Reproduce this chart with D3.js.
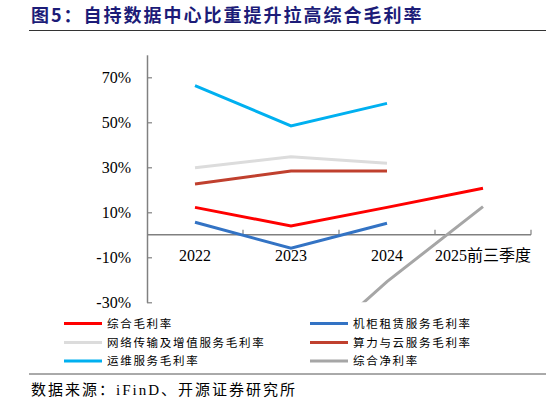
<!DOCTYPE html>
<html>
<head>
<meta charset="utf-8">
<script src="https://cdn.jsdelivr.net/npm/d3@7"></script>
<style>
  body { margin: 0; background: #fff; }
  svg { display: block; }
</style>
</head>
<body>
<svg id="chart" width="546" height="404"></svg>
<script>
// values (percent)
const categories = ['2022', '2023', '2024', '2025前三季度'];
const grossMargin = [12.2, 3.9, 12.2, 20.7];       // 综合毛利率
const rackMargin = [5.6, -6.0, 5.1, null];         // 机柜租赁服务毛利率
const networkMargin = [29.8, 34.7, 31.8, null];    // 网络传输及增值服务毛利率
const cloudMargin = [22.6, 28.4, 28.4, null];      // 算力与云服务毛利率
const opsMargin = [66.3, 48.4, 58.4, null];        // 运维服务毛利率
const netMargin = [null, -59.0, -20.8, 12.5];      // 综合净利率
const yTicks = [-30, -10, 10, 30, 50, 70];

const series = [
  {name: '综合毛利率', values: grossMargin, color: '#ff0000'},
  {name: '机柜租赁服务毛利率', values: rackMargin, color: '#3373c4'},
  {name: '网络传输及增值服务毛利率', values: networkMargin, color: '#dcdcdc'},
  {name: '算力与云服务毛利率', values: cloudMargin, color: '#c0402e'},
  {name: '运维服务毛利率', values: opsMargin, color: '#00b0f0'},
  {name: '综合净利率', values: netMargin, color: '#a6a6a6'}
];

const svg = d3.select('#chart');
const serif = '"Liberation Serif", "Times New Roman", serif';
const cjk = '"Noto Sans CJK SC", sans-serif';

// title
svg.append('text')
  .attr('x', 31).attr('y', 22)
  .attr('font-family', cjk).attr('font-weight', 'bold')
  .attr('font-size', 18).attr('letter-spacing', 2.0)
  .attr('fill', '#1c1c78')
  .text('图5：自持数据中心比重提升拉高综合毛利率');
svg.append('line')
  .attr('x1', 29).attr('x2', 546).attr('y1', 30.5).attr('y2', 30.5)
  .attr('stroke', '#333').attr('stroke-width', 1.2);

const x = d3.scaleBand().domain(categories).range([147, 531]);
const y = d3.scaleLinear().domain([-30, 80]).range([302.3, 54.8]);

// y axis
const yAxis = svg.append('g')
  .attr('transform', `translate(${x.range()[0]},0)`)
  .call(d3.axisLeft(y).tickValues(yTicks).tickFormat(d => d + '%')
    .tickSizeInner(-5).tickSizeOuter(0).tickPadding(16));
yAxis.select('.domain').attr('stroke', '#808080').attr('stroke-width', 1.5);
yAxis.selectAll('.tick line').attr('stroke', '#808080').attr('stroke-width', 1.2);
yAxis.selectAll('.tick text')
  .attr('font-family', serif).attr('font-size', 16).attr('fill', '#000');

// x axis at 0%
const y0 = y(0);
const xAxis = svg.append('g');
xAxis.append('line')
  .attr('x1', x.range()[0]).attr('x2', x.range()[1])
  .attr('y1', y0).attr('y2', y0)
  .attr('stroke', '#808080').attr('stroke-width', 1.5);
const bounds = categories.map(c => x(c)).concat([x.range()[1]]).slice(1);
xAxis.selectAll('.xtick').data(bounds).enter().append('line')
  .attr('x1', d => d).attr('x2', d => d)
  .attr('y1', y0).attr('y2', y0 - 5)
  .attr('stroke', '#808080').attr('stroke-width', 1.2);
xAxis.selectAll('.xlabel').data(categories).enter().append('text')
  .attr('x', d => x(d) + x.bandwidth() / 2)
  .attr('y', y0 + 26)
  .attr('text-anchor', 'middle')
  .attr('font-family', d => d.length > 4 ? serif + ',' + cjk : serif)
  .attr('font-size', 16)
  .attr('fill', '#000')
  .text(d => d);

// plot clip
svg.append('clipPath').attr('id', 'plotclip')
  .append('rect')
  .attr('x', x.range()[0]).attr('y', y.range()[1])
  .attr('width', x.range()[1] - x.range()[0])
  .attr('height', y.range()[0] - y.range()[1]);

const line = d3.line()
  .defined(d => d != null)
  .x((d, i) => x(categories[i]) + x.bandwidth() / 2)
  .y(d => y(d));

svg.append('g').attr('clip-path', 'url(#plotclip)')
  .selectAll('path').data(series).enter().append('path')
  .attr('d', d => line(d.values))
  .attr('fill', 'none')
  .attr('stroke', d => d.color)
  .attr('stroke-width', 3);

// legend
const legend = svg.append('g');
const legendCols = [64, 310];
const legendRows = [323.5, 342.5, 361];
series.forEach((s, i) => {
  const lx = legendCols[i % 2];
  const ly = legendRows[Math.floor(i / 2)];
  legend.append('line')
    .attr('x1', lx).attr('x2', lx + 38)
    .attr('y1', ly).attr('y2', ly)
    .attr('stroke', s.color).attr('stroke-width', 3);
  legend.append('text')
    .attr('x', lx + 43).attr('y', ly + 4)
    .attr('font-family', cjk).attr('font-size', 11.5)
    .attr('letter-spacing', 1.7)
    .attr('fill', '#000')
    .text(s.name);
});

// source
svg.append('line')
  .attr('x1', 29).attr('x2', 546).attr('y1', 374).attr('y2', 374)
  .attr('stroke', '#555').attr('stroke-width', 1);
svg.append('text')
  .attr('x', 31).attr('y', 395)
  .attr('font-family', serif + ',' + cjk).attr('font-size', 15)
  .attr('letter-spacing', 2.0)
  .attr('fill', '#000')
  .text('数据来源：iFinD、开源证券研究所');
</script>
</body>
</html>
